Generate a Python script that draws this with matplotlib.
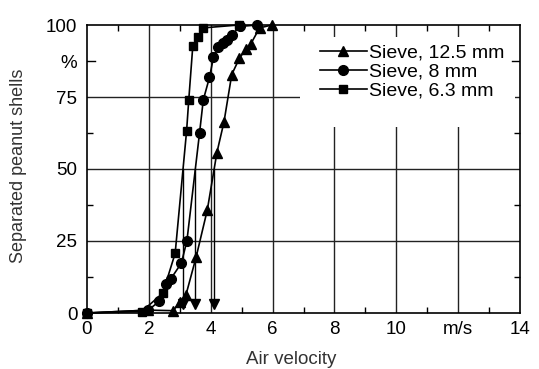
import matplotlib
matplotlib.use("Agg")
import matplotlib.pyplot as plt
from matplotlib.patches import Rectangle

plt.rcParams['font.family'] = ['Liberation Sans', 'DejaVu Sans']

# Sieve 12.5 mm (triangles)
x_125 = [0.0, 1.98, 2.79, 3.0, 3.2, 3.53, 3.89, 4.2, 4.43, 4.68, 4.93, 5.13, 5.3, 5.58, 5.98]
y_125 = [0.0, 1.0, 0.8, 3.9, 6.3, 19.5, 35.8, 55.7, 66.4, 82.8, 88.5, 91.5, 93.5, 99.0, 100.0]
# Sieve 8 mm (circles)
x_8 = [0.0, 1.98, 2.33, 2.54, 2.70, 3.05, 3.23, 3.64, 3.76, 3.96, 4.09, 4.25, 4.41, 4.52, 4.68, 4.95, 5.49]
y_8 = [0.0, 1.0, 4.0, 10.0, 11.7, 17.3, 25.0, 62.6, 74.0, 81.8, 88.8, 92.3, 93.7, 94.9, 96.6, 99.5, 100.0]
# Sieve 6.3 mm (squares)
x_63 = [0.0, 1.77, 2.45, 2.85, 3.22, 3.29, 3.42, 3.60, 3.76, 4.90]
y_63 = [0.0, 0.5, 6.9, 20.7, 63.2, 74.0, 92.6, 96.0, 99.0, 100.0]

labels = ["Sieve, 12.5 mm", "Sieve, 8 mm", "Sieve, 6.3 mm"]
# 50 % separation velocities (drop lines)
drop_x = [3.10, 3.48, 4.12]
drop_top = 50.0
drop_bottom = 3.0

x_ticks = [0, 2, 4, 6, 8, 10, 12, 14]
x_ticklabels = ["0", "2", "4", "6", "8", "10", "m/s", "14"]
y_ticks = [0, 25, 50, 75, 87.5, 100]
y_ticklabels = ["0", "25", "50", "75", "%", "100"]

W, H = 539, 369
fig = plt.figure(figsize=(W / 100, H / 100), dpi=100)
ax = fig.add_axes([87 / W, 1 - 313 / H, 433 / W, 288 / H])
ax.set_xlim(0, 14)
ax.set_ylim(0, 100)

# grid lines
for gx in [2, 4, 6, 8, 10, 12]:
    ax.axvline(gx, color='#222222', lw=1.0, zorder=0.5)
for gy in [25, 50, 75]:
    ax.axhline(gy, color='#222222', lw=1.0, zorder=0.5)

# white area behind legend
ax.add_patch(Rectangle((0.492, 0.646), 0.496, 0.312, transform=ax.transAxes,
                       facecolor='white', edgecolor='none', zorder=0.8))

lw = 1.2
ax.plot(x_125, y_125, color='black', lw=lw, marker='^', ms=7.5, label=labels[0], zorder=3, clip_on=False)
ax.plot(x_8, y_8, color='black', lw=lw, marker='o', ms=7, label=labels[1], zorder=3, clip_on=False)
ax.plot(x_63, y_63, color='black', lw=lw, marker='s', ms=5.8, label=labels[2], zorder=3, clip_on=False)

for dx in drop_x:
    ax.plot([dx, dx], [drop_top, drop_bottom], color='black', lw=1.0, zorder=2)
    ax.plot([dx], [drop_bottom], marker='v', ms=7, color='black', zorder=2)

ax.set_xticks(x_ticks)
ax.set_xticklabels(x_ticklabels)
ax.set_yticks(y_ticks)
ax.set_yticklabels(y_ticklabels)
ax.set_xticks(range(1, 14, 2), minor=True)
ax.set_yticks([12.5, 37.5, 62.5], minor=True)
ax.tick_params(axis='both', which='major', direction='in', length=0, labelsize=13.5,
               top=True, right=True)
ax.tick_params(axis='x', which='major', pad=6)
ax.tick_params(axis='y', which='major', pad=7)
ax.tick_params(axis='both', which='minor', direction='in', length=4, width=1.0,
               top=True, right=True)
# 87.5 tick mark drawn manually (as a major tick position has length 0)
ax.plot([0, 0.25], [87.5, 87.5], color='black', lw=1.0, zorder=1)
ax.plot([13.75, 14], [87.5, 87.5], color='black', lw=1.0, zorder=1)

for s in ax.spines.values():
    s.set_linewidth(1.2)
    s.set_zorder(4)

leg = ax.legend(loc='center left', bbox_to_anchor=((320 - 87) / 433, (313 - 72) / 288),
                frameon=False, fontsize=14, borderpad=0, handlelength=2.4,
                handletextpad=0.1, labelspacing=0.08, borderaxespad=0)
leg.set_zorder(5)

fig.text(19 / W, 1 - 166 / H, "Separated peanut shells", rotation=90, ha='center', va='center',
         fontsize=13, color='#333333')
fig.text(291 / W, 1 - 359 / H, "Air velocity", ha='center', va='center',
         fontsize=13.5, color='#333333')

fig.savefig("out.png", dpi=100)
